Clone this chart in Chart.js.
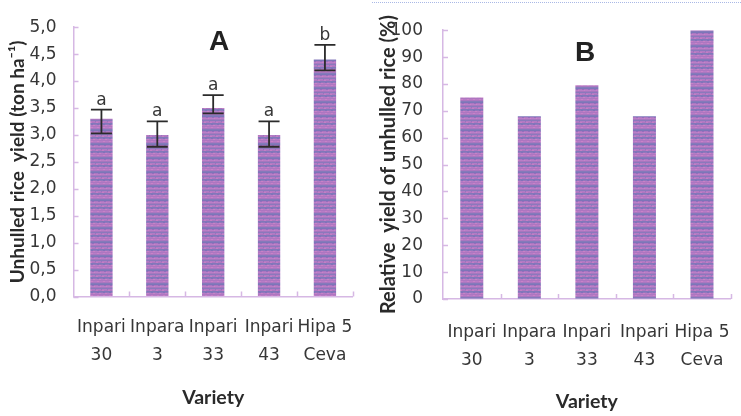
<!DOCTYPE html>
<html>
<head>
<meta charset="utf-8">
<script src="https://cdn.jsdelivr.net/npm/chart.js@4/dist/chart.umd.min.js"></script>
<style>
  html, body { margin: 0; padding: 0; background: #fff; width: 741px; height: 416px; overflow: hidden; position: relative; }
  #cA { position: absolute; left: 0; top: 0; }
  #cB { position: absolute; left: 370px; top: 0; }
  .panel { position: absolute; font-family: "Liberation Sans", Arial, sans-serif; font-weight: bold;
           font-size: 28px; line-height: 1; color: #222; transform: translate(-50%, -50%); }
  #edge { position: absolute; left: 372px; top: 2px; width: 369px; border-top: 1px dotted #a9b8e6; }
</style>
</head>
<body>
<canvas id="cA" width="370" height="416"></canvas>
<canvas id="cB" width="380" height="416"></canvas>
<div id="edge"></div>
<div class="panel" style="left:219px; top:41px;">A</div>
<div class="panel" style="left:585px; top:52px;">B</div>
<script>
// Varieties (two-line labels)
const varieties = [['Inpari', '30'], ['Inpara', '3'], ['Inpari', '33'], ['Inpari', '43'], ['Hipa 5', 'Ceva']];

// Panel A: unhulled rice yield (ton/ha) with error bar limits and significance letters
const yieldTonHa = [3.3, 3.0, 3.5, 3.0, 4.4];
const yieldUpper = [3.47, 3.25, 3.74, 3.25, 4.67];
const yieldLower = [3.03, 2.78, 3.40, 2.78, 4.20];
const sigLetters = ['a', 'a', 'a', 'a', 'b'];
const yTickLabelsA = ['0,0', '0,5', '1,0', '1,5', '2,0', '2,5', '3,0', '3,5', '4,0', '4,5', '5,0'];

// Panel B: relative yield of unhulled rice (%)
const relativeYield = [75, 68, 79.5, 68, 100];
const yTickLabelsB = ['0', '10', '20', '30', '40', '50', '60', '70', '80', '90', '100'];

const AXIS_COLOR = '#d6b8e4';
const TEXT_COLOR = '#363636';
const TICK_FONT = { family: '"DejaVu Sans", Verdana, sans-serif', size: 17 };
const TITLE_FAMILY = 'Lato, "Open Sans", sans-serif';

// Striped purple fill for the bars
function barPattern() {
  const rows = ['#ae76c0', '#b87cc6', '#aa77c0', '#857abb', '#7c76b8', '#ac76c1', '#ba7fc7',
                '#a677bf', '#8b79bc', '#b37bc4', '#ad77c1', '#8178ba', '#9179bd', '#b57cc5'];
  const c = document.createElement('canvas');
  c.width = 6; c.height = rows.length;
  const g = c.getContext('2d');
  rows.forEach((col, i) => { g.fillStyle = col; g.fillRect(0, i, 6, 1); });
  g.fillStyle = 'rgba(225,135,200,0.45)';
  g.fillRect(1, 1, 2, 1); g.fillRect(4, 6, 1, 1); g.fillRect(0, 10, 2, 1); g.fillRect(3, 13, 2, 1);
  g.fillStyle = 'rgba(100,100,180,0.35)';
  g.fillRect(2, 5, 2, 1); g.fillRect(5, 9, 1, 1); g.fillRect(1, 12, 2, 1);
  return c;
}

// Inward tick marks on both axes
const innerTicks = {
  id: 'innerTicks',
  afterDatasetsDraw(chart) {
    const { ctx, chartArea, scales: { x, y } } = chart;
    ctx.save();
    ctx.strokeStyle = AXIS_COLOR;
    ctx.lineWidth = 1.5;
    ctx.beginPath();
    y.ticks.forEach(t => {
      const py = Math.round(y.getPixelForValue(t.value)) + 0.5;
      ctx.moveTo(chartArea.left, py); ctx.lineTo(chartArea.left + 5, py);
    });
    const n = x.ticks.length;
    for (let i = 0; i < n; i++) {
      const px = i < n - 1 ? (x.getPixelForValue(i) + x.getPixelForValue(i + 1)) / 2 : chartArea.right;
      ctx.moveTo(Math.round(px) + 0.5, chartArea.bottom); ctx.lineTo(Math.round(px) + 0.5, chartArea.bottom - 5);
    }
    ctx.stroke();
    ctx.restore();
  }
};

// Error bars and significance letters for panel A
const errorBars = {
  id: 'errorBars',
  afterDatasetsDraw(chart) {
    const { ctx, scales: { y } } = chart;
    const meta = chart.getDatasetMeta(0);
    ctx.save();
    ctx.strokeStyle = '#2b2b2b';
    ctx.lineWidth = 1.8;
    ctx.fillStyle = TEXT_COLOR;
    ctx.font = '17px "DejaVu Sans", Verdana, sans-serif';
    ctx.textAlign = 'center';
    ctx.textBaseline = 'alphabetic';
    meta.data.forEach((bar, i) => {
      const cx = bar.x;
      const top = y.getPixelForValue(yieldUpper[i]);
      const bot = y.getPixelForValue(yieldLower[i]);
      ctx.beginPath();
      ctx.moveTo(cx, top); ctx.lineTo(cx, bot);
      ctx.moveTo(cx - 10.5, top); ctx.lineTo(cx + 10.5, top);
      ctx.moveTo(cx - 10.5, bot); ctx.lineTo(cx + 10.5, bot);
      ctx.stroke();
      ctx.fillText(sigLetters[i], cx, top - 5);
    });
    ctx.restore();
  }
};

function makeChart(canvasId, values, yMax, step, tickLabels, yTitle, opts) {
  const ctx = document.getElementById(canvasId).getContext('2d');
  const fill = ctx.createPattern(barPattern(), 'repeat');
  return new Chart(ctx, {
    type: 'bar',
    data: {
      labels: varieties,
      datasets: [{ data: values, backgroundColor: fill, borderWidth: 0,
                   categoryPercentage: 1.0, barPercentage: 0.4 }]
    },
    options: {
      responsive: false,
      animation: false,
      devicePixelRatio: 1,
      layout: { padding: { left: 0, top: opts.top, right: opts.right, bottom: 0 } },
      plugins: { legend: { display: false }, tooltip: { enabled: false } },
      scales: {
        x: {
          grid: { drawOnChartArea: false, drawTicks: false },
          border: { display: true, color: AXIS_COLOR, width: 1.5 },
          ticks: { color: TEXT_COLOR, font: Object.assign({ lineHeight: 1.65 }, TICK_FONT),
                   padding: opts.xPad, maxRotation: 0, autoSkip: false },
          title: { display: true, text: 'Variety', color: '#2a2a2a',
                   font: { family: TITLE_FAMILY, size: 19.5, weight: 'bold', lineHeight: 1.2 },
                   padding: { top: 0, bottom: opts.xTitlePad } },
          afterFit(scale) { scale.height = opts.xHeight; }
        },
        y: {
          min: 0, max: yMax,
          grid: { drawOnChartArea: false, drawTicks: false },
          border: { display: true, color: AXIS_COLOR, width: 1.5 },
          ticks: { stepSize: step, color: TEXT_COLOR, font: TICK_FONT, padding: opts.yPad,
                   callback: (v, i) => tickLabels[i] },
          title: { display: true, text: yTitle, color: '#2a2a2a',
                   font: { family: TITLE_FAMILY, size: opts.yTitleSize, weight: 'bold', lineHeight: 1.2 },
                   padding: { top: opts.yTitlePad, bottom: 0 } },
          afterFit(scale) { scale.width = opts.yWidth; }
        }
      }
    },
    plugins: opts.plugins
  });
}

makeChart('cA', yieldTonHa, 5, 0.5, yTickLabelsA, 'Unhulled rice  yield (ton ha\u207B\u00B9)', {
  top: 22, right: 1, xHeight: 119.5, xPad: 17.5, xTitlePad: 6.5,
  yWidth: 73.5, yPad: 17, yTitleSize: 19, yTitlePad: 6,
  plugins: [innerTicks, errorBars]
});

makeChart('cB', relativeYield, 100, 10, yTickLabelsB, 'Relative  yield of unhulled rice (%)', {
  top: 29, right: 5.5, xHeight: 117, xPad: 20, xTitlePad: 2.5,
  yWidth: 73, yPad: 20, yTitleSize: 20, yTitlePad: 7,
  plugins: [innerTicks]
});
</script>
</body>
</html>
